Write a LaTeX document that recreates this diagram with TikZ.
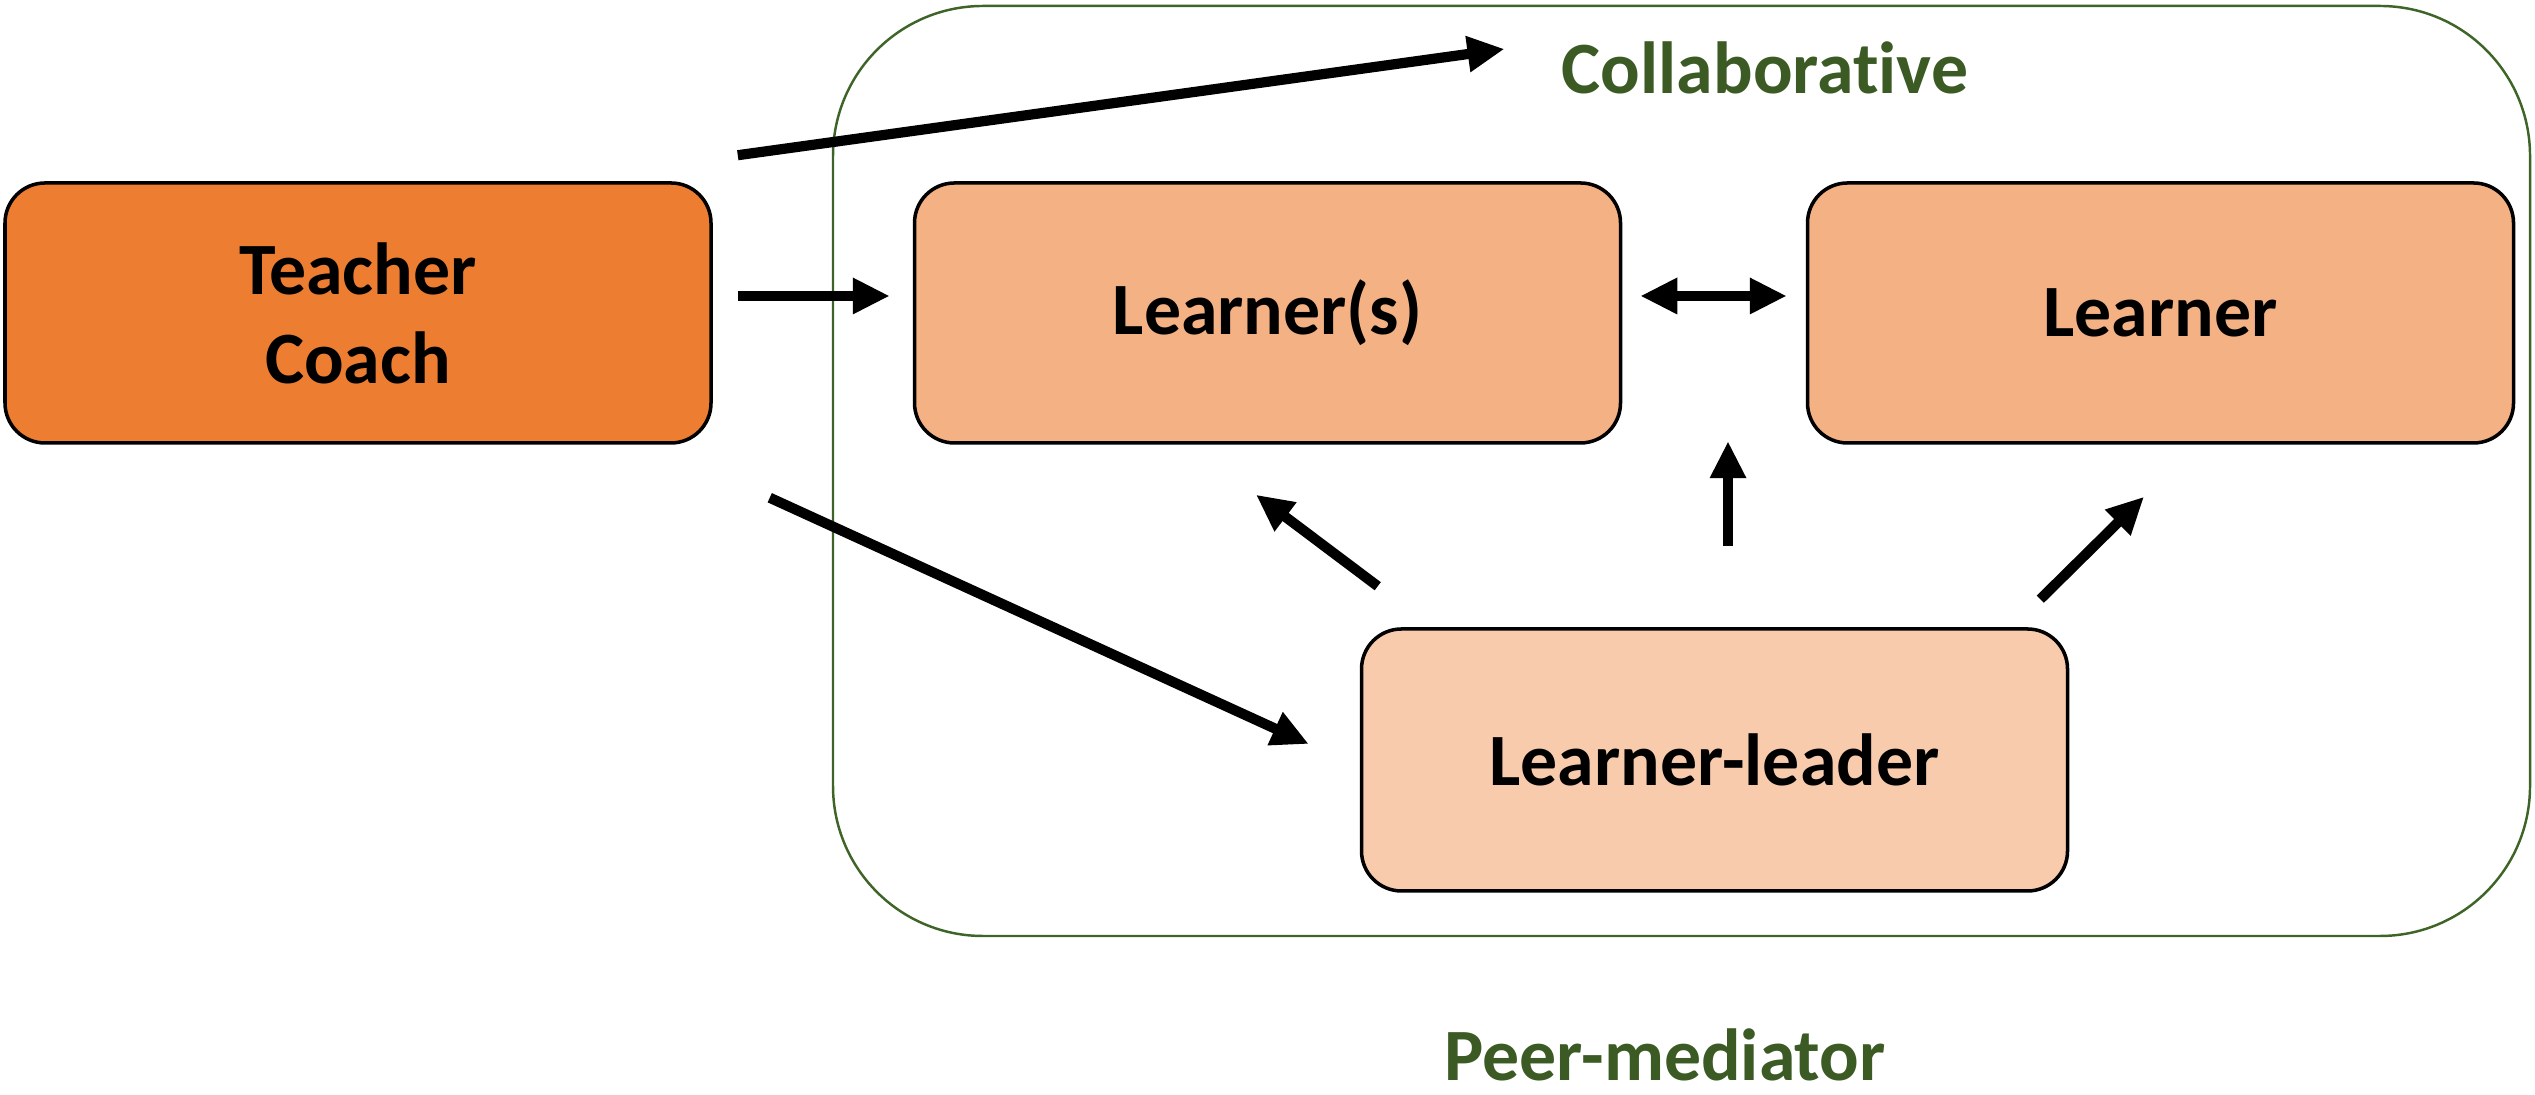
\documentclass[tikz,border=0pt]{standalone}
\usepackage{fontspec}
\setmainfont[Ligatures={NoCommon,NoRare}, RawFeature={-clig;-calt}]{Carlito}
\usetikzlibrary{arrows.meta}
\definecolor{teachcol}{HTML}{ED7D31}
\definecolor{learncol}{HTML}{F4B183}
\definecolor{leadcol}{HTML}{F8CBAD}
\definecolor{framecol}{HTML}{3F6428}
\definecolor{labelcol}{HTML}{3B5A24}
\tikzset{
    box/.style={draw=black, line width=1pt, rounded corners=0.4cm, minimum width=7.06cm, minimum height=2.6cm, align=center, font=\fontsize{21}{25.3}\selectfont\bfseries},
    arr/.style={line width=2.9pt, -{Triangle[length=0.37cm, width=0.34cm]}},
    twoarr/.style={line width=2.9pt, {Triangle[length=0.37cm, width=0.34cm]}-{Triangle[length=0.37cm, width=0.34cm]}},
    lbl/.style={text=labelcol, font=\fontsize{21}{25.3}\selectfont\bfseries}
}
\begin{document}
\begin{tikzpicture}
        \useasboundingbox (0,0) rectangle (25.35,10.95);
        \draw[framecol, line width=0.7pt, rounded corners=1.5cm](8.33, 10.89) rectangle (25.30, 1.59);

        \node[box, fill=teachcol] (teacher) at (3.58, 7.82){Teacher\\Coach};
        \node[box, fill=learncol] (learners) at (12.675, 7.82){Learner(s)};
        \node[box, fill=learncol] (learner) at (21.605, 7.82){Learner};
        \node[box, fill=leadcol, minimum height=2.62cm] (leader) at (17.145, 3.35){Learner-leader};

        \node[lbl] (collab) at (17.65, 10.27){Collaborative};
        \node[lbl, inner sep=0pt, anchor=base] (peer) at (16.65, 0.14){Peer-mediator};

        \draw[arr]([shift={(0.25,0.26)}]teacher.north east) -- ([shift={(-0.45,0.19)}]collab.west);
        \draw[arr]([shift={(0.25,0.17)}]teacher.east) -- ([shift={(-0.23,0.17)}]learners.west);
        \draw[arr]([shift={(0.57,-0.53)}]teacher.south east) -- ([shift={(-0.51,0.16)}]leader.west);
        \draw[twoarr]([shift={(0.18,0.17)}]learners.east) -- ([shift={(-0.19,0.17)}]learner.west);

        \draw[arr]([shift={(0.18,0.41)}]leader.north west) -- ([shift={(-0.115,-0.5)}]learners.south);
        \draw[arr]([shift={(0.135,0.81)}]leader.north) -- ([shift={(0.135,1.86)}]leader.north);
        \draw[arr]([shift={(-0.29,0.28)}]leader.north east) -- ([shift={(-0.165,-0.52)}]learner.south);

    \end{tikzpicture}
\end{document}
